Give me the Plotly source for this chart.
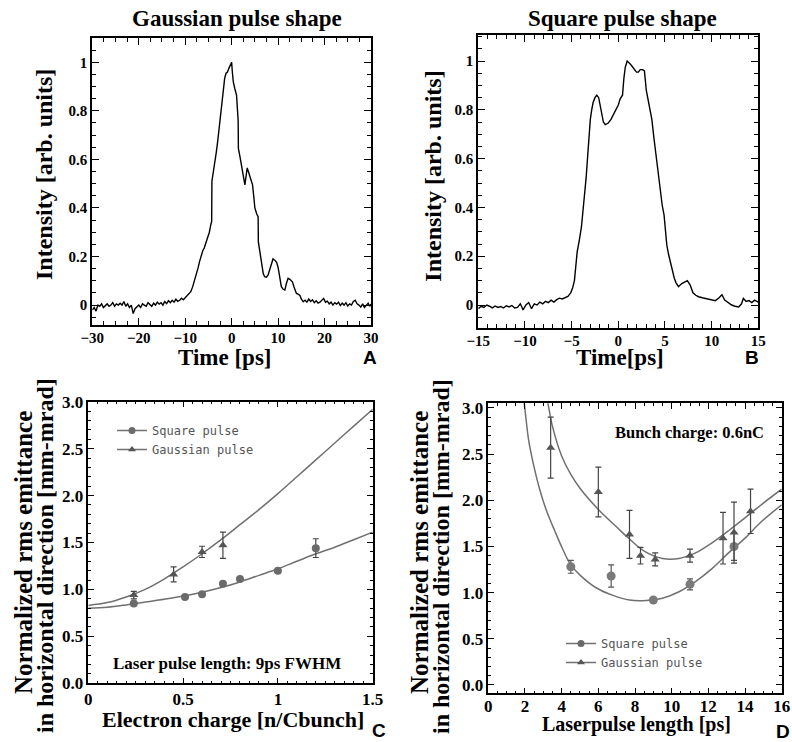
import plotly.graph_objects as go

W, H = 792, 742

# ---------------- Panel A: Gaussian pulse shape ----------------
gauss_t = [-30, -29.6, -29.2, -28.8, -28.4, -28.0, -27.6, -27.2, -26.8, -26.4, -26.0, -25.6, -25.2,
           -24.8, -24.4, -24.0, -23.6, -23.2, -22.8, -22.4, -22.0, -21.6, -21.2, -20.8, -20.4, -20.0,
           -19.6, -19.2, -18.8, -18.4, -18.0, -17.6, -17.2, -16.8, -16.4, -16.0, -15.6, -15.2, -14.8,
           -14.4, -14.0, -13.6, -13.2, -12.8, -12.4, -12.0, -11.6, -11.2, -10.8, -10.4, -10.0,
           -9.6, -9.2, -8.8, -8.4, -8.0, -7.6, -7.2, -6.9, -6.6, -6.2, -5.9, -5.5, -5.1, -4.8, -4.5,
           -4.3, -4.25, -3.9, -3.6, -3.3, -3.0, -2.7, -2.4, -2.1, -1.8, -1.5, -1.2, -0.9, -0.6, -0.3,
           0.0, 0.15, 0.35, 0.7, 1.05, 1.4, 1.45, 1.8, 2.1, 2.5, 2.85, 3.1, 3.35, 3.6, 3.9, 4.2, 4.5,
           4.8, 5.0, 5.4, 5.7, 5.75, 6.1, 6.4, 6.8, 7.1, 7.5, 7.85, 8.2, 8.6, 8.9, 9.3, 9.7, 10.0,
           10.4, 10.7, 11.1, 11.45, 11.8, 12.15, 12.6, 13.1, 13.5, 13.95, 14.3, 14.7, 15.0, 15.4,
           15.8, 16.2, 16.6, 17.0, 17.4, 17.8, 18.2, 18.6, 19.0, 19.4, 19.8, 20.2, 20.6, 21.0, 21.4,
           21.8, 22.2, 22.6, 23.0, 23.4, 23.8, 24.2, 24.6, 25.0, 25.4, 25.8, 26.2, 26.6, 27.0, 27.4,
           27.8, 28.2, 28.6, 29.0, 29.4, 29.7, 30.0]
gauss_i = [-0.02, -0.01, -0.025, 0.0, -0.005, 0.005, -0.01, 0.0, 0.005, -0.005, 0.0, 0.01, -0.005,
           0.005, 0.0, 0.008, 0.0, 0.015, -0.005, 0.005, -0.01, 0.0, -0.035, -0.015, -0.005, 0.0,
           -0.01, 0.005, 0.0, -0.005, 0.01, 0.002, -0.005, 0.008, 0.0, 0.012, 0.004, 0.01, 0.0,
           0.015, 0.006, 0.018, 0.01, 0.02, 0.012, 0.024, 0.015, 0.02, 0.028, 0.022, 0.03,
           0.035, 0.045, 0.055, 0.075, 0.10, 0.125, 0.155, 0.18, 0.20, 0.225, 0.235, 0.26, 0.285, 0.30, 0.33,
           0.345, 0.51, 0.55, 0.59, 0.63, 0.675, 0.73, 0.79, 0.83, 0.88, 0.935, 0.955, 0.96, 0.975, 0.985,
           1.0, 0.96, 0.92, 0.89, 0.865, 0.76, 0.645, 0.61, 0.575, 0.52, 0.495, 0.53, 0.565, 0.55, 0.53, 0.515, 0.495,
           0.44, 0.40, 0.375, 0.364, 0.26, 0.21, 0.165, 0.13, 0.117, 0.115, 0.124, 0.15, 0.18, 0.19, 0.185, 0.175, 0.155,
           0.11, 0.076, 0.065, 0.062, 0.09, 0.11, 0.105, 0.095, 0.07, 0.048, 0.045, 0.04, 0.025, 0.014,
           0.02, 0.012, 0.025, 0.015, 0.022, 0.01, 0.018, 0.008, 0.012, 0.02, 0.027, 0.012, 0.016, 0.005, 0.012,
           0.0, 0.01, 0.004, 0.012, -0.002, 0.008, 0.0, 0.01, -0.004, 0.005, 0.0, 0.015, 0.02, 0.005, 0.0,
           -0.008, 0.005, -0.01, 0.0, 0.008, -0.005, 0.004]

# ---------------- Panel B: Square pulse shape ----------------
square_t = [-15.0, -14.7, -14.4, -14.1, -13.8, -13.5, -13.2, -12.9, -12.6, -12.3, -12.0, -11.7, -11.4,
            -11.1, -10.8, -10.5, -10.2, -9.9, -9.6, -9.3, -9.0, -8.7, -8.4, -8.1, -7.8, -7.5, -7.2,
            -6.9, -6.6, -6.3, -6.0, -5.7, -5.4, -5.1, -4.9, -4.7, -4.55, -4.4, -4.2, -3.95, -3.75,
            -3.6, -3.45, -3.3, -3.15, -3.0, -2.85, -2.7, -2.5, -2.3, -2.1, -1.95, -1.8, -1.6, -1.4,
            -1.1, -0.8, -0.5, -0.3, 0.0, 0.2, 0.45, 0.6, 0.75, 0.95, 1.15, 1.35, 1.55, 1.75, 1.95,
            2.15, 2.35, 2.6, 2.8, 3.0, 3.2, 3.4, 3.6, 3.8, 3.95, 4.2, 4.45, 4.7, 4.9, 5.05, 5.2, 5.4,
            5.7, 6.0, 6.2, 6.45, 6.8, 7.1, 7.4, 7.7, 8.0, 8.3, 8.6, 9.0, 9.3, 9.7, 10.0, 10.4, 10.8,
            11.1, 11.4, 11.8, 12.15, 12.5, 12.9, 13.2, 13.4, 13.7, 14.0, 14.3, 14.6, 15.0]
square_i = [-0.015, -0.005, -0.01, 0.0, -0.005, -0.012, -0.004, -0.01, -0.006, -0.012, -0.003, -0.008, -0.002,
            -0.012, -0.01, 0.005, -0.02, 0.0, 0.01, -0.015, 0.005, 0.0, 0.012, 0.005, 0.015, 0.01, 0.02,
            0.012, 0.022, 0.028, 0.025, 0.03, 0.035, 0.05, 0.07, 0.10, 0.17, 0.22, 0.26, 0.32, 0.40,
            0.45, 0.52, 0.60, 0.70, 0.76, 0.80, 0.83, 0.85, 0.86, 0.85, 0.82, 0.78, 0.75, 0.74,
            0.745, 0.76, 0.785, 0.80, 0.82, 0.845, 0.86, 0.93, 0.975, 1.0, 0.99, 0.985, 0.975, 0.965, 0.955,
            0.955, 0.965, 0.965, 0.96, 0.88, 0.84, 0.81, 0.76, 0.69, 0.64, 0.575, 0.48, 0.41, 0.37, 0.30, 0.245, 0.205,
            0.15, 0.11, 0.09, 0.075, 0.088, 0.095, 0.10, 0.082, 0.05, 0.04, 0.034, 0.03, 0.027, 0.022, 0.02, 0.018, 0.03,
            0.042, 0.02, 0.01, 0.0, -0.005, -0.008, 0.005, 0.027, 0.015, 0.018, 0.01, 0.02, 0.012]

# ---------------- Panel C: emittance vs charge ----------------
c_sq_q = [0.24, 0.51, 0.60, 0.71, 0.80, 1.00, 1.20]
c_sq_e = [0.85, 0.92, 0.95, 1.06, 1.11, 1.20, 1.44]
c_sq_err = [0.0, 0.0, 0.0, 0.0, 0.0, 0.0, 0.10]
c_ga_q = [0.24, 0.45, 0.60, 0.71]
c_ga_e = [0.94, 1.16, 1.40, 1.47]
c_ga_err = [0.04, 0.08, 0.06, 0.14]
c_fit_q = [0.0, 0.1, 0.2, 0.3, 0.4, 0.5, 0.6, 0.7, 0.8, 0.9, 1.0, 1.1, 1.2, 1.3, 1.4, 1.5]
c_fit_sq = [0.80, 0.81, 0.835, 0.865, 0.895, 0.93, 0.97, 1.02, 1.08, 1.15, 1.22, 1.30, 1.38, 1.45, 1.53, 1.61]
c_fit_ga = [0.83, 0.86, 0.92, 1.00, 1.11, 1.24, 1.38, 1.53, 1.69, 1.85, 2.02, 2.20, 2.38, 2.56, 2.74, 2.92]

# ---------------- Panel D: emittance vs pulse length ----------------
d_sq_len = [4.5, 6.7, 9.0, 11.0, 13.4]
d_sq_e = [1.28, 1.18, 0.92, 1.09, 1.50]
d_sq_err = [0.07, 0.12, 0.02, 0.06, 0.15]
d_ga_len = [3.4, 6.0, 7.7, 8.3, 9.1, 11.0, 12.8, 13.4, 14.3]
d_ga_e = [2.57, 2.09, 1.63, 1.40, 1.36, 1.40, 1.59, 1.65, 1.88]
d_ga_err = [0.33, 0.27, 0.26, 0.09, 0.07, 0.07, 0.28, 0.33, 0.24]
d_fit_ga_len = [3.0, 3.25, 3.5, 4.0, 4.5, 5.0, 6.0, 7.0, 7.7, 8.5, 9.5, 10.4, 11.3, 12.2, 13.1, 14.0, 15.0, 16.0]
d_fit_ga = [3.25, 3.05, 2.80, 2.48, 2.28, 2.13, 1.90, 1.71, 1.58, 1.45, 1.37, 1.37, 1.43, 1.54, 1.67, 1.81, 1.97, 2.12]
d_fit_sq_len = [1.85, 1.96, 2.2, 2.45, 2.8, 3.15, 3.6, 4.06, 4.5, 5.0, 5.9, 6.8, 7.7, 8.6, 9.5, 10.4, 11.3, 12.2,
                13.1, 14.0, 14.9, 16.0]
d_fit_sq = [3.2, 3.05, 2.65, 2.40, 2.12, 1.90, 1.68, 1.47, 1.30, 1.19, 1.05, 0.97, 0.92, 0.915, 0.94, 1.01, 1.12, 1.26,
            1.43, 1.59, 1.77, 1.95]

tick_a_y = [0, 0.2, 0.4, 0.6, 0.8, 1]
tick_a_y_text = ["0", "0.2", "0.4", "0.6", "0.8", "1"]
tick_cd_y = [0, 0.5, 1.0, 1.5, 2.0, 2.5, 3.0]
tick_cd_y_text = ["0.0", "0.5", "1.0", "1.5", "2.0", "2.5", "3.0"]
tick_c_x = [0, 0.5, 1, 1.5]
tick_c_x_text = ["0", "0.5", "1", "1.5"]

SERIF = "Liberation Serif, Times New Roman, serif"
GRAY = "#707070"
MK = "#6a6a6a"


def px(x):
    return x / W


def py(y):
    return 1 - y / H


fig = go.Figure()

fig.add_trace(go.Scatter(x=gauss_t, y=gauss_i, mode="lines", line=dict(color="black", width=1.4),
                         xaxis="x", yaxis="y", showlegend=False))
fig.add_trace(go.Scatter(x=square_t, y=square_i, mode="lines", line=dict(color="black", width=1.4),
                         xaxis="x2", yaxis="y2", showlegend=False))

# Panel C
fig.add_trace(go.Scatter(x=c_fit_q, y=c_fit_ga, mode="lines", line=dict(color=GRAY, width=1.5, shape="spline"),
                         xaxis="x3", yaxis="y3", showlegend=False))
fig.add_trace(go.Scatter(x=c_fit_q, y=c_fit_sq, mode="lines", line=dict(color=GRAY, width=1.5, shape="spline"),
                         xaxis="x3", yaxis="y3", showlegend=False))
fig.add_trace(go.Scatter(x=c_sq_q, y=c_sq_e, mode="markers",
                         marker=dict(symbol="circle", size=8, color=MK),
                         error_y=dict(type="data", array=c_sq_err, color="#444", thickness=1.2, width=3),
                         xaxis="x3", yaxis="y3", showlegend=False))
fig.add_trace(go.Scatter(x=c_ga_q, y=c_ga_e, mode="markers",
                         marker=dict(symbol="triangle-up", size=8, color="#555"),
                         error_y=dict(type="data", array=c_ga_err, color="#444", thickness=1.2, width=3),
                         xaxis="x3", yaxis="y3", showlegend=False))
fig.add_trace(go.Scatter(x=[None], y=[None], mode="lines+markers", name="Square pulse",
                         line=dict(color=GRAY, width=1.5), marker=dict(symbol="circle", size=7, color=MK),
                         xaxis="x3", yaxis="y3", legend="legend"))
fig.add_trace(go.Scatter(x=[None], y=[None], mode="lines+markers", name="Gaussian pulse",
                         line=dict(color=GRAY, width=1.5), marker=dict(symbol="triangle-up", size=7, color="#555"),
                         xaxis="x3", yaxis="y3", legend="legend"))

# Panel D
fig.add_trace(go.Scatter(x=d_fit_ga_len, y=d_fit_ga, mode="lines", line=dict(color=GRAY, width=1.5, shape="spline"),
                         xaxis="x4", yaxis="y4", showlegend=False))
fig.add_trace(go.Scatter(x=d_fit_sq_len, y=d_fit_sq, mode="lines", line=dict(color=GRAY, width=1.5, shape="spline"),
                         xaxis="x4", yaxis="y4", showlegend=False))
fig.add_trace(go.Scatter(x=d_sq_len, y=d_sq_e, mode="markers",
                         marker=dict(symbol="circle", size=9, color="#7a7a7a"),
                         error_y=dict(type="data", array=d_sq_err, color="#555", thickness=1.2, width=3),
                         xaxis="x4", yaxis="y4", showlegend=False))
fig.add_trace(go.Scatter(x=d_ga_len, y=d_ga_e, mode="markers",
                         marker=dict(symbol="triangle-up", size=8, color="#555"),
                         error_y=dict(type="data", array=d_ga_err, color="#444", thickness=1.2, width=3),
                         xaxis="x4", yaxis="y4", showlegend=False))
fig.add_trace(go.Scatter(x=[None], y=[None], mode="lines+markers", name="Square pulse",
                         line=dict(color=GRAY, width=1.5), marker=dict(symbol="circle", size=7, color=MK),
                         xaxis="x4", yaxis="y4", legend="legend2"))
fig.add_trace(go.Scatter(x=[None], y=[None], mode="lines+markers", name="Gaussian pulse",
                         line=dict(color=GRAY, width=1.5), marker=dict(symbol="triangle-up", size=7, color="#555"),
                         xaxis="x4", yaxis="y4", legend="legend2"))


def axis(domain, rng, anchor, fsize, lw, tlen, mlen, dtick=None, tickvals=None, ticktext=None, minor_dtick=None,
         standoff=0):
    d = dict(domain=domain, range=rng, anchor=anchor, showgrid=False, zeroline=False, automargin=False,
             showline=True, linecolor="black", linewidth=lw, mirror="ticks",
             ticks="inside", ticklen=tlen, tickwidth=1.3, tickcolor="black", ticklabelstandoff=standoff,
             tickfont=dict(family=SERIF, size=fsize, color="black", weight="bold"),
             minor=dict(ticks="inside", ticklen=mlen, tickwidth=1, tickcolor="black", dtick=minor_dtick,
                        showgrid=False))
    if dtick is not None:
        d["dtick"] = dtick
        d["tick0"] = 0
    if tickvals is not None:
        d["tickmode"] = "array"
        d["tickvals"] = tickvals
        d["ticktext"] = ticktext
    return d


layout = dict(
    width=W, height=H, autosize=False, margin=dict(l=0, r=0, t=0, b=0, pad=0),
    paper_bgcolor="white", plot_bgcolor="white",
    xaxis=axis([px(92.3), px(371)], [-30, 30], "y", 15, 2, 7, 4, dtick=10, minor_dtick=2.5, standoff=-2),
    yaxis=axis([py(325), py(38)], [-0.082, 1.1], "x", 15, 2, 7, 4, tickvals=tick_a_y, ticktext=tick_a_y_text,
               minor_dtick=0.05),
    xaxis2=axis([px(478.3), px(758.3)], [-15, 15], "y2", 15, 2, 7, 4, dtick=5, minor_dtick=1, standoff=-2),
    yaxis2=axis([py(327.7), py(35)], [-0.093, 1.107], "x2", 15, 2, 7, 4, tickvals=tick_a_y, ticktext=tick_a_y_text,
                minor_dtick=0.05),
    xaxis3=axis([px(88.3), px(372.7)], [0, 1.5], "y3", 17, 1.5, 6, 3, tickvals=tick_c_x, ticktext=tick_c_x_text,
                minor_dtick=0.05),
    yaxis3=axis([py(683.3), py(401.7)], [0, 3], "x3", 17, 1.5, 6, 3, tickvals=tick_cd_y, ticktext=tick_cd_y_text,
                minor_dtick=0.1),
    xaxis4=axis([px(488.3), px(781.7)], [0, 16], "y4", 17, 1.5, 6, 3, dtick=2, minor_dtick=0.5, standoff=-3),
    yaxis4=axis([py(693.3), py(403.3)], [-0.09, 3.05], "x4", 17, 1.5, 6, 3, tickvals=tick_cd_y,
                ticktext=tick_cd_y_text, minor_dtick=0.1),
    legend=dict(x=px(112), y=py(416), xanchor="left", yanchor="top", bgcolor="rgba(0,0,0,0)",
                font=dict(family="DejaVu Sans Mono", size=12, color="#555"), tracegroupgap=0,
                itemwidth=30),
    legend2=dict(x=px(561), y=py(629), xanchor="left", yanchor="top", bgcolor="rgba(0,0,0,0)",
                 font=dict(family="DejaVu Sans Mono", size=12, color="#555"), tracegroupgap=0,
                 itemwidth=30),
)

annots = []


def text(x, y, s, size, family=SERIF, angle=0, weight="bold"):
    annots.append(dict(x=px(x), y=py(y), xref="paper", yref="paper", text=s, showarrow=False,
                       xanchor="center", yanchor="middle", textangle=angle,
                       font=dict(family=family, size=size, color="black", weight=weight)))


text(236.7, 19, "Gaussian pulse shape", 23)
text(622, 19, "Square pulse shape", 23)
text(44, 175, "Intensity [arb. units]", 24, angle=-90)
text(432.7, 176, "Intensity [arb. units]", 24, angle=-90)
text(225, 357, "Time [ps]", 23)
text(620, 357, "Time[ps]", 23)
text(370, 357, "A", 19, family="Liberation Sans")
text(752, 357, "B", 19, family="Liberation Sans")

text(23, 553, "Normalized rms emittance", 25, angle=-90)
text(45, 556, "in horizontal direction [mm-mrad]", 24, angle=-90)
text(419, 553, "Normalized rms emittance", 25, angle=-90)
text(441, 556, "in horizontal direction [mm-mrad]", 24, angle=-90)
text(232.5, 719, "Electron charge [n/Cbunch]", 22)
text(636, 724, "Laserpulse length [ps]", 20)
text(379, 730, "C", 19, family="Liberation Sans")
text(783, 731, "D", 19, family="Liberation Sans")

text(226.7, 663, "Laser pulse length: 9ps FWHM", 17)
text(689.5, 432, "Bunch charge: 0.6nC", 16.5)

layout["annotations"] = annots
fig.update_layout(**layout)
fig.write_html("out.html", config={"displayModeBar": False},
               post_script="document.body.style.margin='0px';")
